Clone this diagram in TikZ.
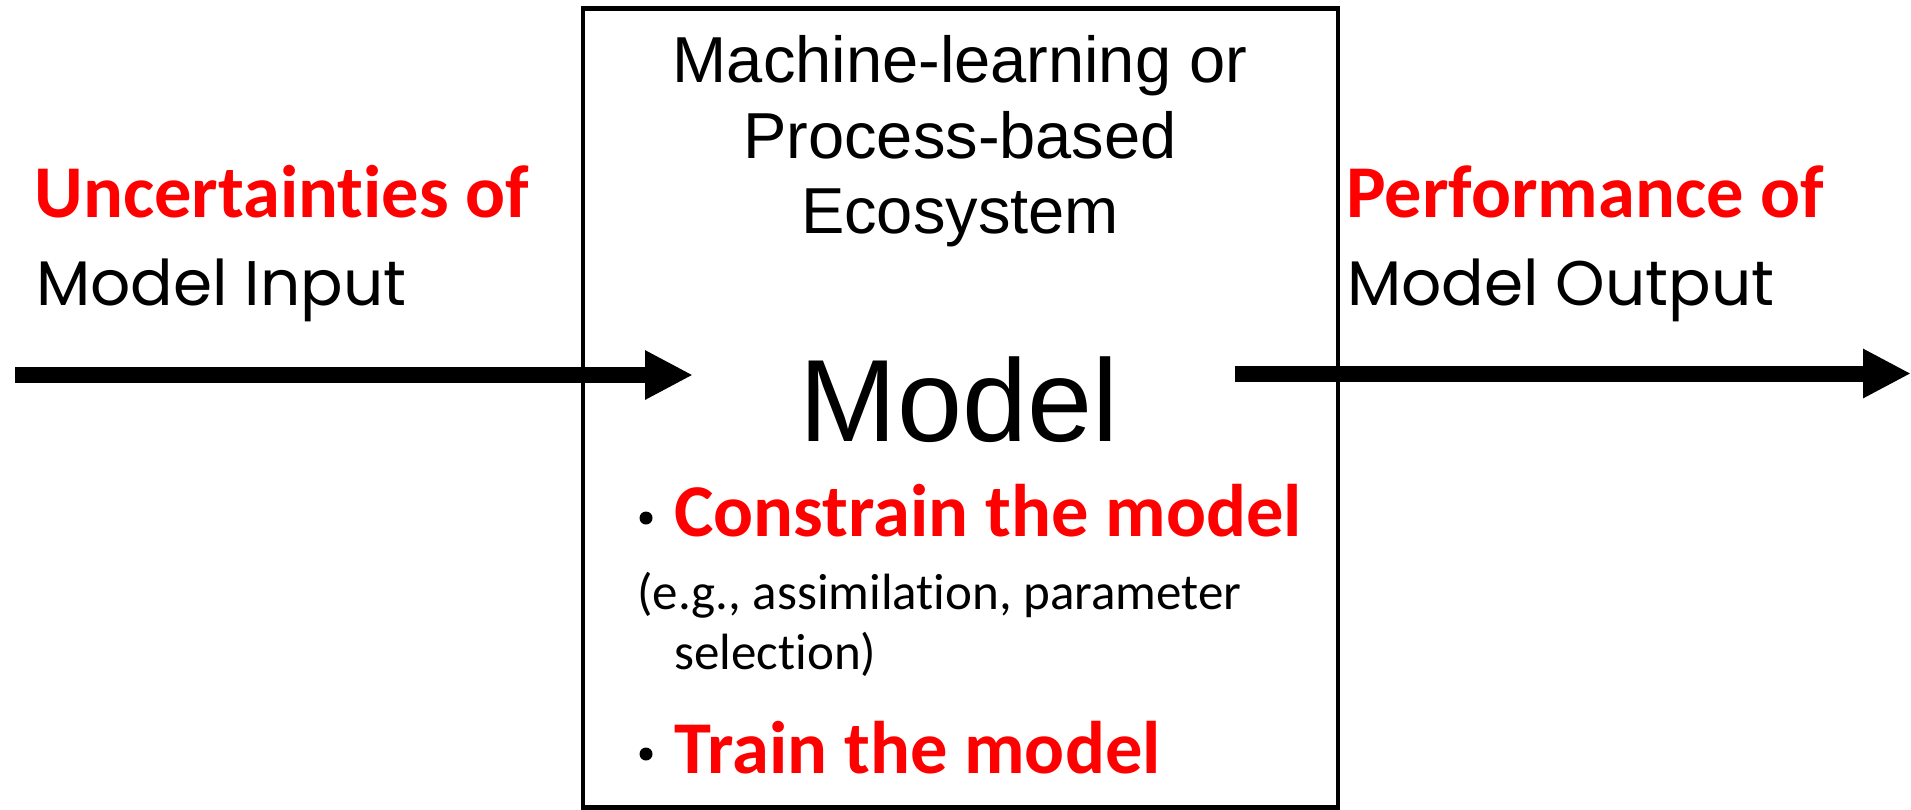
\documentclass[tikz,border=0pt]{standalone}
\usepackage{fontspec}
\setmainfont[RawFeature=-liga]{Carlito}
\newfontfamily\arialf{Liberation Sans}
\newfontfamily\gothf{Poppins}
\usetikzlibrary{arrows.meta}
\definecolor{hired}{RGB}{255,0,0}
\begin{document}
\begin{tikzpicture}[x=0.5pt,y=-0.5pt,
  txt/.style={inner sep=0pt, anchor=base west},
  redbold/.style={txt, text=hired, font=\fontsize{37.25pt}{44pt}\selectfont\bfseries},
  goth/.style={txt, font=\gothf\fontsize{31.5pt}{38pt}\selectfont},
  title/.style={inner sep=0pt, anchor=base, font=\arialf\fontsize{32.5pt}{38pt}\selectfont},
  small/.style={txt, font=\fontsize{25.5pt}{30pt}\selectfont},
  bigarrow/.style={line width=8pt, -{Triangle[length=24pt,width=23pt]}},
  bul/.style={circle, fill=black, inner sep=0pt, minimum size=6.5pt}
]
\useasboundingbox (0,0) rectangle (1911,809);
% box
\node (box) [draw, line width=2.4pt, inner sep=0pt, minimum width=377.5pt, minimum height=399.5pt] at (960.5,407.75) {};
% title
\node (t1) [title] at (960,82) {Machine-learning or};
\node (t2) [title] at (960,158) {Process-based};
\node (t3) [title] at (960,233) {Ecosystem};
\node (model) [inner sep=0pt, anchor=base, font=\arialf\fontsize{58.5pt}{70pt}\selectfont] at (959,441) {Model};
% bullets
\node (b1) [bul] at (646,518) {};
\node (c1) [redbold] at (674,536) {Constrain the model};
\node (e1) [small] at (637,609) {(e.g., assimilation, parameter};
\node (e2) [small] at (674,669) {selection)};
\node (b2) [bul] at (646,754) {};
\node (c2) [redbold] at (674,773) {Train the model};
% left labels
\node (u1) [redbold] at (34,217) {Uncertainties of};
\node (u2) [goth] at (36,305) {Model Input};
% right labels
\node (p1) [redbold] at (1346,217) {Performance of};
\node (p2) [goth] at (1347,305) {Model Output};
% arrows
\coordinate (inA) at (15,375);
\coordinate (inB) at (693,375);
\coordinate (outA) at (1235,373.5);
\coordinate (outB) at (1911,373.5);
\draw[bigarrow] (inA) -- (inB);
\draw[bigarrow] (outA) -- (outB);
\end{tikzpicture}
\end{document}
